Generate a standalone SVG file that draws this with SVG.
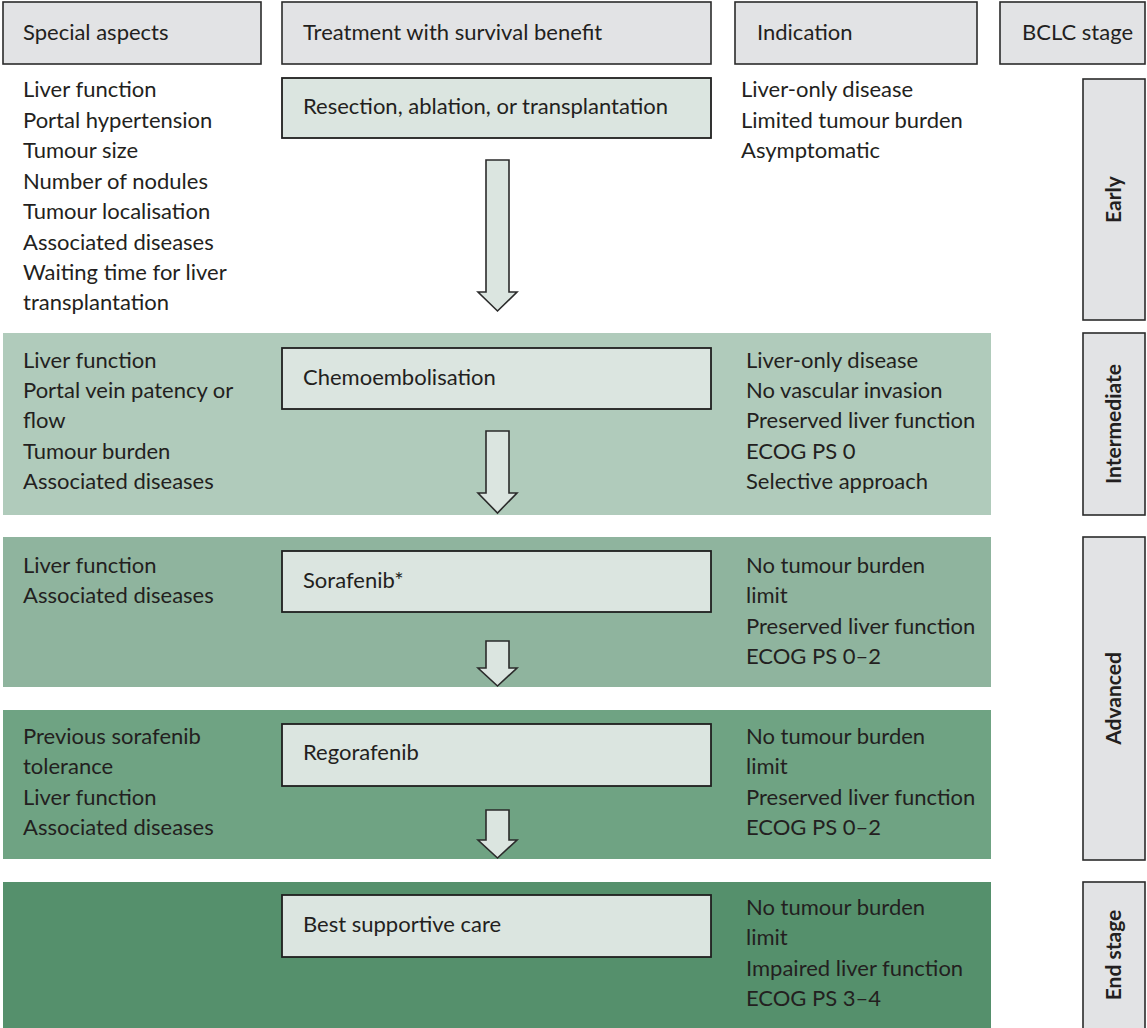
<svg xmlns="http://www.w3.org/2000/svg" width="1147" height="1028" viewBox="0 0 1147 1028">
<style>
.t{font-family:Lato,"Open Sans","Noto Sans",sans-serif;font-size:22px;fill:#231f20}
.hd{fill:#e2e3e5;stroke:#2b2b2b;stroke-width:1.6}
.tx{fill:#dbe5e0;stroke:#1f1f1f;stroke-width:1.8}
.st{fill:#e2e3e5;stroke:#2b2b2b;stroke-width:1.6}
.sv{font-family:Lato,"Open Sans","Noto Sans",sans-serif;font-size:21px;font-weight:700;fill:#231f20;text-anchor:middle}
.ar{fill:#dbe5e0;stroke:#2b2b2b;stroke-width:1.6;stroke-linejoin:miter}
</style>
<rect width="1147" height="1028" fill="#ffffff"/>
<!-- bands -->
<g id="bands">
<rect x="3" y="333" width="988" height="182" fill="#b0cbbb"/>
<rect x="3" y="537" width="988" height="150" fill="#8fb49e"/>
<rect x="3" y="710" width="988" height="149" fill="#6fa383"/>
<rect x="3" y="882" width="988" height="146" fill="#55906c"/>
</g>
<!-- headers -->
<g id="h-special"><rect class="hd" x="3" y="2" width="258" height="62"/><text class="t" x="23" y="40">Special aspects</text></g>
<g id="h-treatment"><rect class="hd" x="282" y="2" width="429" height="62"/><text class="t" x="303" y="40">Treatment with survival benefit</text></g>
<g id="h-indication"><rect class="hd" x="735" y="2" width="242" height="62"/><text class="t" x="757" y="40">Indication</text></g>
<g id="h-bclc"><rect class="hd" x="1000" y="2" width="145" height="62"/><text class="t" x="1022" y="40">BCLC stage</text></g>
<!-- early -->
<g id="early-aspects"><text class="t" x="23" y="97">Liver function</text><text class="t" x="23" y="127.5">Portal hypertension</text><text class="t" x="23" y="158">Tumour size</text><text class="t" x="23" y="188.5">Number of nodules</text><text class="t" x="23" y="219">Tumour localisation</text><text class="t" x="23" y="249.5">Associated diseases</text><text class="t" x="23" y="280">Waiting time for liver</text><text class="t" x="23" y="310">transplantation</text></g>
<g id="early-treatment"><rect class="tx" x="282" y="78" width="429" height="60"/><text class="t" x="303" y="114">Resection, ablation, or transplantation</text></g>
<g id="early-indication"><text class="t" x="741" y="97">Liver-only disease</text><text class="t" x="741" y="127.5">Limited tumour burden</text><text class="t" x="741" y="158">Asymptomatic</text></g>
<!-- intermediate -->
<g id="int-aspects"><text class="t" x="23" y="368">Liver function</text><text class="t" x="23" y="398">Portal vein patency or</text><text class="t" x="23" y="428">flow</text><text class="t" x="23" y="459">Tumour burden</text><text class="t" x="23" y="489">Associated diseases</text></g>
<g id="int-treatment"><rect class="tx" x="282" y="348" width="429" height="61"/><text class="t" x="303" y="385">Chemoembolisation</text></g>
<g id="int-indication"><text class="t" x="746" y="368">Liver-only disease</text><text class="t" x="746" y="398">No vascular invasion</text><text class="t" x="746" y="428">Preserved liver function</text><text class="t" x="746" y="459">ECOG PS 0</text><text class="t" x="746" y="489">Selective approach</text></g>
<!-- advanced 1 -->
<g id="adv1-aspects"><text class="t" x="23" y="573">Liver function</text><text class="t" x="23" y="603">Associated diseases</text></g>
<g id="adv1-treatment"><rect class="tx" x="282" y="551" width="429" height="61"/><text class="t" x="303" y="588">Sorafenib*</text></g>
<g id="adv1-indication"><text class="t" x="746" y="573">No tumour burden</text><text class="t" x="746" y="603">limit</text><text class="t" x="746" y="634">Preserved liver function</text><text class="t" x="746" y="664">ECOG PS 0–2</text></g>
<!-- advanced 2 -->
<g id="adv2-aspects"><text class="t" x="23" y="744">Previous sorafenib</text><text class="t" x="23" y="774">tolerance</text><text class="t" x="23" y="805">Liver function</text><text class="t" x="23" y="835">Associated diseases</text></g>
<g id="adv2-treatment"><rect class="tx" x="282" y="724" width="429" height="62"/><text class="t" x="303" y="760">Regorafenib</text></g>
<g id="adv2-indication"><text class="t" x="746" y="744">No tumour burden</text><text class="t" x="746" y="774">limit</text><text class="t" x="746" y="805">Preserved liver function</text><text class="t" x="746" y="835">ECOG PS 0–2</text></g>
<!-- end stage -->
<g id="end-treatment"><rect class="tx" x="282" y="895" width="429" height="62"/><text class="t" x="303" y="932">Best supportive care</text></g>
<g id="end-indication"><text class="t" x="746" y="915">No tumour burden</text><text class="t" x="746" y="945">limit</text><text class="t" x="746" y="976">Impaired liver function</text><text class="t" x="746" y="1006">ECOG PS 3–4</text></g>
<!-- stages -->
<g id="stage-early"><rect class="st" x="1083" y="79" width="62" height="241"/><text class="sv" transform="translate(1121 199.5) rotate(-90)">Early</text></g>
<g id="stage-intermediate"><rect class="st" x="1083" y="333" width="62" height="182"/><text class="sv" transform="translate(1121 424) rotate(-90)">Intermediate</text></g>
<g id="stage-advanced"><rect class="st" x="1083" y="537" width="62" height="323"/><text class="sv" transform="translate(1121 698.5) rotate(-90)">Advanced</text></g>
<g id="stage-end"><rect class="st" x="1083" y="882" width="62" height="150"/><text class="sv" transform="translate(1121 955) rotate(-90)">End stage</text></g>
<!-- connectors -->
<g id="connectors">
<path class="ar" d="M486 160 H509 V292 H517 L497.5 311 L478 292 H486 Z"/>
<path class="ar" d="M486 431 H509 V493 H517 L497.5 513 L478 493 H486 Z"/>
<path class="ar" d="M486 641 H509 V668 H517 L497.5 686 L478 668 H486 Z"/>
<path class="ar" d="M486 810 H509 V840 H517 L497.5 858 L478 840 H486 Z"/>
</g>
</svg>
